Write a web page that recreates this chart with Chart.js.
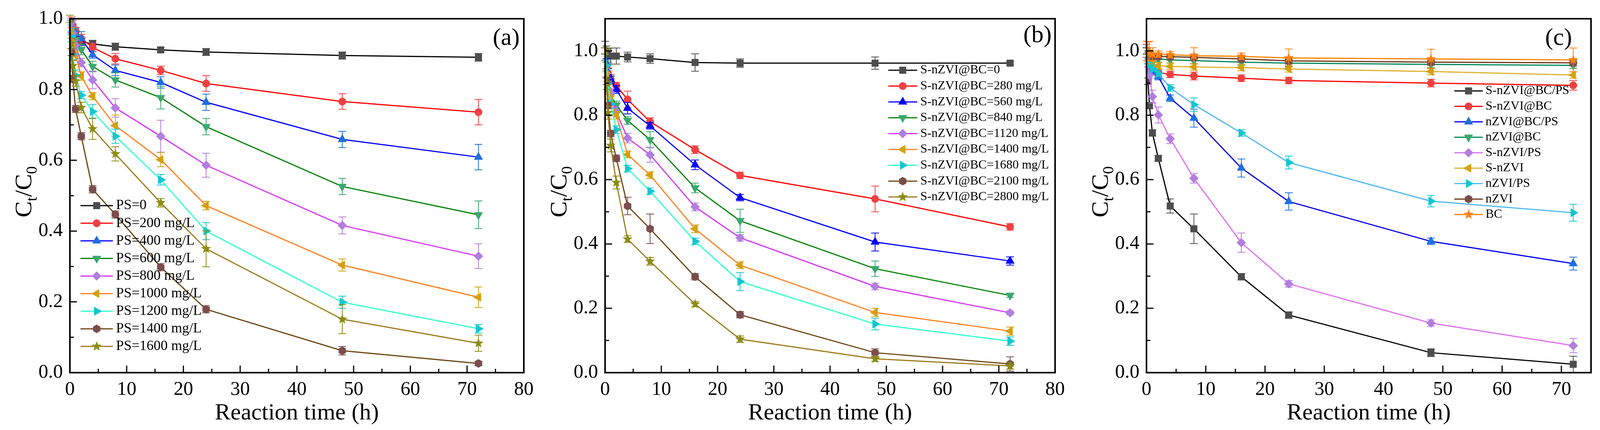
<!DOCTYPE html>
<html>
<head>
<meta charset="utf-8">
<script src="https://cdn.jsdelivr.net/npm/chart.js@4.4.1/dist/chart.umd.min.js"></script>
<style>
  html, body { margin: 0; padding: 0; background: #fff; }
  #wrap { position: relative; width: 4102px; height: 1102px; }
  #wrap canvas { position: absolute; top: 0; }
</style>
</head>
<body>
<div id="wrap">
  <canvas id="chartA" width="1380" height="1102" style="left:0px"></canvas>
  <canvas id="chartB" width="1360" height="1102" style="left:1380px"></canvas>
  <canvas id="chartC" width="1362" height="1102" style="left:2740px"></canvas>
</div>
<script>
// sampling times (h), shared by all three panels
const times = [0, 0.25, 0.5, 1, 2, 4, 8, 16, 24, 48, 72];
const xTicksAB = [0, 10, 20, 30, 40, 50, 60, 70, 80];
const xTicksC = [0, 10, 20, 30, 40, 50, 60, 70];
const yTicks = [0, 0.2, 0.4, 0.6, 0.8, 1.0];

// (a) PS dosage
const labelsA = ['PS=0', 'PS=200 mg/L', 'PS=400 mg/L', 'PS=600 mg/L', 'PS=800 mg/L',
  'PS=1000 mg/L', 'PS=1200 mg/L', 'PS=1400 mg/L', 'PS=1600 mg/L'];
const valuesA = [
  [1.0, 0.98, 0.96, 0.95, 0.935, 0.929, 0.921, 0.912, 0.906, 0.896, 0.891],
  [1.0, 0.99, 0.98, 0.964, 0.944, 0.919, 0.887, 0.854, 0.817, 0.766, 0.736],
  [1.0, 0.98, 0.97, 0.958, 0.944, 0.898, 0.854, 0.820, 0.764, 0.659, 0.609],
  [1.0, 0.97, 0.955, 0.94, 0.913, 0.865, 0.827, 0.777, 0.695, 0.526, 0.446],
  [1.0, 0.99, 0.96, 0.925, 0.876, 0.827, 0.748, 0.668, 0.586, 0.416, 0.329],
  [1.0, 0.96, 0.93, 0.897, 0.838, 0.781, 0.698, 0.602, 0.472, 0.304, 0.213],
  [1.0, 0.95, 0.90, 0.84, 0.784, 0.738, 0.668, 0.545, 0.40, 0.199, 0.124],
  [1.0, 0.906, 0.83, 0.745, 0.668, 0.518, 0.447, 0.298, 0.179, 0.062, 0.026],
  [1.0, 0.93, 0.867, 0.824, 0.749, 0.689, 0.618, 0.48, 0.35, 0.151, 0.083]
];
const errorsA = [
  [0.01, 0.02, 0.015, 0.012, 0.01, 0.01, 0.01, 0.006, 0.01, 0.01, 0.011],
  [0.01, 0.015, 0.015, 0.012, 0.012, 0.012, 0.015, 0.012, 0.022, 0.022, 0.036],
  [0.01, 0.015, 0.015, 0.015, 0.02, 0.01, 0.015, 0.016, 0.023, 0.023, 0.036],
  [0.01, 0.015, 0.015, 0.015, 0.015, 0.015, 0.02, 0.032, 0.023, 0.023, 0.039],
  [0.01, 0.01, 0.015, 0.015, 0.012, 0.025, 0.026, 0.045, 0.034, 0.024, 0.035],
  [0.01, 0.015, 0.015, 0.012, 0.012, 0.01, 0.03, 0.02, 0.012, 0.017, 0.029],
  [0.01, 0.015, 0.015, 0.015, 0.01, 0.02, 0.02, 0.015, 0.024, 0.017, 0.012],
  [0.01, 0.01, 0.01, 0.01, 0.01, 0.01, 0.01, 0.01, 0.01, 0.012, 0.006],
  [0.01, 0.015, 0.015, 0.015, 0.015, 0.03, 0.02, 0.012, 0.051, 0.041, 0.023]
];

// (b) S-nZVI@BC dosage
const labelsB = ['S-nZVI@BC=0', 'S-nZVI@BC=280 mg/L', 'S-nZVI@BC=560 mg/L', 'S-nZVI@BC=840 mg/L',
  'S-nZVI@BC=1120 mg/L', 'S-nZVI@BC=1400 mg/L', 'S-nZVI@BC=1680 mg/L', 'S-nZVI@BC=2100 mg/L',
  'S-nZVI@BC=2800 mg/L'];
const valuesB = [
  [1.0, 0.99, 0.985, 0.984, 0.984, 0.981, 0.976, 0.964, 0.962, 0.962, 0.962],
  [1.0, 0.95, 0.932, 0.912, 0.892, 0.849, 0.780, 0.693, 0.613, 0.540, 0.453],
  [1.0, 0.96, 0.93, 0.91, 0.880, 0.822, 0.767, 0.646, 0.544, 0.406, 0.347],
  [1.0, 0.95, 0.90, 0.86, 0.832, 0.784, 0.724, 0.574, 0.472, 0.323, 0.24],
  [1.0, 0.93, 0.88, 0.87, 0.81, 0.729, 0.677, 0.515, 0.419, 0.268, 0.186],
  [1.0, 0.92, 0.88, 0.85, 0.80, 0.678, 0.614, 0.447, 0.334, 0.187, 0.129],
  [1.0, 0.955, 0.90, 0.835, 0.755, 0.634, 0.564, 0.408, 0.283, 0.151, 0.098],
  [1.0, 0.906, 0.83, 0.743, 0.666, 0.518, 0.447, 0.298, 0.18, 0.062, 0.027],
  [1.0, 0.9, 0.808, 0.706, 0.591, 0.415, 0.346, 0.213, 0.104, 0.043, 0.021]
];
const errorsB = [
  [0.03, 0.025, 0.02, 0.025, 0.025, 0.015, 0.015, 0.027, 0.013, 0.019, 0.005],
  [0.01, 0.015, 0.015, 0.015, 0.01, 0.026, 0.012, 0.012, 0.01, 0.04, 0.01],
  [0.01, 0.015, 0.015, 0.012, 0.012, 0.018, 0.01, 0.015, 0.01, 0.028, 0.013],
  [0.01, 0.015, 0.015, 0.012, 0.012, 0.012, 0.025, 0.015, 0.036, 0.024, 0.006],
  [0.01, 0.015, 0.015, 0.012, 0.015, 0.015, 0.023, 0.012, 0.01, 0.01, 0.006],
  [0.01, 0.015, 0.015, 0.012, 0.012, 0.01, 0.01, 0.012, 0.01, 0.013, 0.013],
  [0.01, 0.015, 0.015, 0.012, 0.012, 0.01, 0.01, 0.01, 0.028, 0.018, 0.013],
  [0.01, 0.01, 0.01, 0.01, 0.01, 0.027, 0.046, 0.01, 0.01, 0.012, 0.022],
  [0.01, 0.02, 0.02, 0.02, 0.02, 0.01, 0.012, 0.008, 0.01, 0.008, 0.01]
];

// (c) different systems
const labelsC = ['S-nZVI@BC/PS', 'S-nZVI@BC', 'nZVI@BC/PS', 'nZVI@BC', 'S-nZVI/PS',
  'S-nZVI', 'nZVI/PS', 'nZVI', 'BC'];
const valuesC = [
  [1.0, 0.906, 0.83, 0.745, 0.666, 0.518, 0.447, 0.298, 0.179, 0.062, 0.026],
  [1.0, 0.96, 0.945, 0.938, 0.933, 0.927, 0.922, 0.915, 0.908, 0.90, 0.893],
  [1.0, 0.97, 0.95, 0.935, 0.92, 0.853, 0.791, 0.636, 0.532, 0.408, 0.339],
  [1.0, 0.985, 0.98, 0.977, 0.975, 0.972, 0.97, 0.965, 0.962, 0.958, 0.955],
  [1.0, 0.96, 0.925, 0.858, 0.801, 0.727, 0.604, 0.404, 0.276, 0.154, 0.084],
  [1.0, 0.98, 0.97, 0.96, 0.954, 0.952, 0.950, 0.948, 0.944, 0.936, 0.925],
  [1.0, 0.97, 0.96, 0.945, 0.93, 0.885, 0.833, 0.745, 0.653, 0.533, 0.497],
  [1.0, 0.99, 0.985, 0.983, 0.983, 0.982, 0.98, 0.975, 0.969, 0.965, 0.963],
  [1.0, 0.998, 0.995, 0.99, 0.99, 0.988, 0.985, 0.983, 0.978, 0.975, 0.972]
];
const errorsC = [
  [0.01, 0.01, 0.01, 0.01, 0.008, 0.022, 0.046, 0.01, 0.01, 0.012, 0.025],
  [0.02, 0.01, 0.01, 0.01, 0.01, 0.01, 0.012, 0.01, 0.01, 0.012, 0.015],
  [0.01, 0.01, 0.01, 0.01, 0.01, 0.01, 0.028, 0.028, 0.027, 0.01, 0.02],
  [0.01, 0.01, 0.01, 0.01, 0.01, 0.01, 0.01, 0.01, 0.01, 0.01, 0.01],
  [0.01, 0.01, 0.01, 0.02, 0.025, 0.015, 0.015, 0.03, 0.01, 0.01, 0.022],
  [0.01, 0.01, 0.01, 0.01, 0.01, 0.01, 0.01, 0.01, 0.01, 0.01, 0.01],
  [0.01, 0.01, 0.01, 0.01, 0.01, 0.01, 0.021, 0.01, 0.02, 0.018, 0.026],
  [0.01, 0.01, 0.01, 0.01, 0.01, 0.01, 0.01, 0.01, 0.01, 0.01, 0.01],
  [0.03, 0.03, 0.035, 0.02, 0.01, 0.01, 0.025, 0.01, 0.028, 0.03, 0.037]
];

// ---- styling ----
const FONT = '"Liberation Serif", "Times New Roman", serif';
const markerKinds = ['square', 'circle', 'up', 'down', 'diamond', 'left', 'right', 'hexagon', 'star'];
const lineColorsA = ['#000000', '#ff0000', '#0000ff', '#008000', '#d633f5', '#ff8020', '#33ffcc', '#6b4513', '#9c7b1e'];
const markColorsA = ['#4d4d4d', '#f04040', '#1e6fe0', '#3aa870', '#b07ee0', '#d4a00c', '#12c6d0', '#7a4c4c', '#8c8c12'];
const markColorsB = ['#4d4d4d', '#f04040', '#0000ff', '#3aa870', '#b07ee0', '#d4a00c', '#12c6d0', '#7a4c4c', '#8c8c12'];
const lineColorsC = ['#000000', '#ff0000', '#0000ee', '#00875a', '#e070f0', '#e0b030', '#50b8f0', '#6b3515', '#ff8000'];
const markColorsC = ['#4d4d4d', '#f04040', '#1e6fe0', '#3aa870', '#b07ee0', '#d4a00c', '#12c6d0', '#7a4c4c', '#ff8010'];

// filled hexagon / star that Chart.js has no built-in style for
function shapeCanvas(kind, color, r) {
  const s = Math.ceil(r * 2 + 2);
  const c = document.createElement('canvas');
  c.width = s; c.height = s;
  const g = c.getContext('2d');
  g.fillStyle = color;
  g.beginPath();
  const n = kind === 'hexagon' ? 6 : 10;
  for (let k = 0; k < n; k++) {
    const a = -Math.PI / 2 + k * 2 * Math.PI / n;
    const rr = kind === 'star' && k % 2 ? r * 0.42 : r;
    const px = s / 2 + rr * Math.cos(a), py = s / 2 + rr * Math.sin(a);
    k ? g.lineTo(px, py) : g.moveTo(px, py);
  }
  g.closePath();
  g.fill();
  return c;
}

function markerFor(kind, color) {
  switch (kind) {
    case 'square': return { style: 'rect', radius: 12, rotation: 0 };
    case 'circle': return { style: 'circle', radius: 9.5, rotation: 0 };
    case 'up': return { style: 'triangle', radius: 12.5, rotation: 0 };
    case 'down': return { style: 'triangle', radius: 12.5, rotation: 180 };
    case 'diamond': return { style: 'rectRot', radius: 11.5, rotation: 0 };
    case 'left': return { style: 'triangle', radius: 12.5, rotation: -90 };
    case 'right': return { style: 'triangle', radius: 12.5, rotation: 90 };
    case 'hexagon': return { style: shapeCanvas('hexagon', color, 11), radius: 11, rotation: 0 };
    case 'star': return { style: shapeCanvas('star', color, 13.5), radius: 13.5, rotation: 0 };
  }
}

const errorBarPlugin = {
  id: 'errorBars',
  beforeDatasetDraw(chart, args) {
    const ds = chart.data.datasets[args.index];
    const { ctx, scales: { x, y } } = chart;
    ctx.save();
    ctx.strokeStyle = ds.errorColor;
    ctx.lineWidth = 2;
    ctx.beginPath();
    ds.data.forEach((p, i) => {
      const e = ds.errors[i];
      const px = x.getPixelForValue(p.x);
      const yt = y.getPixelForValue(p.y + e);
      const yb = y.getPixelForValue(p.y - e);
      ctx.moveTo(px, yt); ctx.lineTo(px, yb);
      ctx.moveTo(px - 10, yt); ctx.lineTo(px + 10, yt);
      ctx.moveTo(px - 10, yb); ctx.lineTo(px + 10, yb);
    });
    ctx.stroke();
    ctx.restore();
  }
};

// box frame + inward major/minor ticks, Origin style
const framePlugin = {
  id: 'frame',
  afterDatasetsDraw(chart) {
    const { ctx, chartArea: { left, right, top, bottom }, scales: { x, y } } = chart;
    ctx.save();
    ctx.strokeStyle = '#000';
    ctx.lineWidth = 4;
    ctx.strokeRect(left, top, right - left, bottom - top);
    ctx.lineWidth = 3;
    ctx.beginPath();
    for (let v = 0; v <= x.max + 1e-9; v += 5) {
      const px = x.getPixelForValue(v);
      const len = v % 10 === 0 ? 18 : 10;
      ctx.moveTo(px, bottom); ctx.lineTo(px, bottom - len);
    }
    for (let k = 0; k * 0.1 <= y.max + 1e-9; k++) {
      const py = y.getPixelForValue(k * 0.1);
      const len = k % 2 === 0 ? 18 : 10;
      ctx.moveTo(left, py); ctx.lineTo(left + len, py);
    }
    ctx.stroke();
    ctx.restore();
  }
};

// panel letter, C_t/C_0 title with subscripts, and the in-plot legend
const decorPlugin = {
  id: 'decor',
  afterDraw(chart, args, o) {
    const { ctx, chartArea } = chart;
    ctx.save();
    ctx.fillStyle = '#000';
    ctx.font = '62px ' + FONT;
    ctx.textAlign = 'center';
    ctx.textBaseline = 'middle';
    ctx.fillText(o.letter, o.letterX, o.letterY);

    ctx.save();
    ctx.translate(chartArea.left - 120, (chartArea.top + chartArea.bottom) / 2 - 10);
    ctx.rotate(-Math.PI / 2);
    const parts = [['C', 62, 0], ['t', 40, 14], ['/C', 62, 0], ['0', 40, 14]];
    let total = 0;
    parts.forEach(p => { ctx.font = p[1] + 'px ' + FONT; total += ctx.measureText(p[0]).width; });
    let cx = -total / 2;
    ctx.textAlign = 'left';
    ctx.textBaseline = 'alphabetic';
    parts.forEach(p => {
      ctx.font = p[1] + 'px ' + FONT;
      ctx.fillText(p[0], cx, 21 + p[2]);
      cx += ctx.measureText(p[0]).width;
    });
    ctx.restore();

    const L = o.legend;
    chart.data.datasets.forEach((ds, i) => {
      const yy = L.y0 + i * L.dy;
      ctx.strokeStyle = ds.borderColor;
      ctx.lineWidth = 3;
      ctx.beginPath();
      ctx.moveTo(L.x0, yy); ctx.lineTo(L.x1, yy);
      ctx.stroke();
      ctx.fillStyle = ds.pointBackgroundColor;
      ctx.strokeStyle = ds.pointBorderColor;
      ctx.lineWidth = 1;
      Chart.helpers.drawPoint(ctx, {
        pointStyle: ds.pointStyle, radius: ds.pointRadius,
        rotation: ds.pointRotation, borderWidth: 1
      }, (L.x0 + L.x1) / 2, yy);
      ctx.fillStyle = '#000';
      ctx.font = L.size + 'px ' + FONT;
      ctx.textAlign = 'left';
      ctx.textBaseline = 'middle';
      ctx.fillText(ds.label, L.xt, yy);
    });
    ctx.restore();
  }
};

function makePanel(id, labels, values, errors, lineColors, markColors, cfg) {
  const n = labels.length;
  const datasets = labels.map((lab, i) => {
    const m = markerFor(markerKinds[i], markColors[i]);
    return {
      label: lab,
      data: times.map((t, k) => ({ x: t, y: values[i][k] })),
      errors: errors[i],
      errorColor: markColors[i],
      borderColor: lineColors[i],
      backgroundColor: markColors[i],
      borderWidth: 3,
      pointStyle: m.style,
      pointRadius: m.radius,
      pointRotation: m.rotation,
      pointBackgroundColor: markColors[i],
      pointBorderColor: markColors[i],
      pointBorderWidth: 1,
      tension: 0,
      order: n - i
    };
  });
  return new Chart(document.getElementById(id), {
    type: 'line',
    data: { datasets },
    options: {
      responsive: false,
      animation: false,
      devicePixelRatio: 1,
      layout: { padding: { left: 0, right: cfg.padRight, top: 43, bottom: 0 } },
      plugins: {
        legend: { display: false },
        tooltip: { enabled: false },
        decor: cfg.decor
      },
      scales: {
        x: {
          type: 'linear', min: 0, max: cfg.xMax,
          afterBuildTicks: s => { s.ticks = cfg.xTicks.map(v => ({ value: v })); },
          afterFit: s => { s.height = 147; },
          grid: { display: false, drawTicks: false },
          border: { display: false },
          ticks: { color: '#000', font: { family: FONT, size: 50 }, padding: 14, maxRotation: 0, autoSkip: false },
          title: {
            display: true, text: 'Reaction time (h)', color: '#000',
            font: { family: FONT, size: 60 }, padding: { top: 0, bottom: 7 }
          }
        },
        y: {
          type: 'linear', min: 0, max: cfg.yMax,
          afterBuildTicks: s => { s.ticks = yTicks.map(v => ({ value: v })); },
          afterFit: s => { s.width = cfg.yWidth; },
          grid: { display: false, drawTicks: false },
          border: { display: false },
          ticks: { color: '#000', font: { family: FONT, size: 50 }, padding: 18, autoSkip: false,
            callback: v => v.toFixed(1) }
        }
      }
    },
    plugins: [errorBarPlugin, framePlugin, decorPlugin]
  });
}

makePanel('chartA', labelsA, valuesA, errorsA, lineColorsA, markColorsA, {
  xMax: 80, yMax: 1.0, xTicks: xTicksAB, yWidth: 179, padRight: 34,
  decor: { letter: '(a)', letterX: 1296, letterY: 99,
    legend: { x0: 206, x1: 289, xt: 297, y0: 527, dy: 45.1, size: 36 } }
});
makePanel('chartB', labelsB, valuesB, errorsB, lineColorsA, markColorsB, {
  xMax: 80, yMax: 1.1, xTicks: xTicksAB, yWidth: 169, padRight: 25,
  decor: { letter: '(b)', letterX: 1276, letterY: 92,
    legend: { x0: 894, x1: 968, xt: 976, y0: 180, dy: 40.6, size: 32 } }
});
makePanel('chartC', labelsC, valuesC, errorsC, lineColorsC, markColorsC, {
  xMax: 75, yMax: 1.1, xTicks: xTicksC, yWidth: 195, padRight: 29,
  decor: { letter: '(c)', letterX: 1250, letterY: 99,
    legend: { x0: 983, x1: 1056, xt: 1063, y0: 233, dy: 39.6, size: 32 } }
});
</script>
</body>
</html>
